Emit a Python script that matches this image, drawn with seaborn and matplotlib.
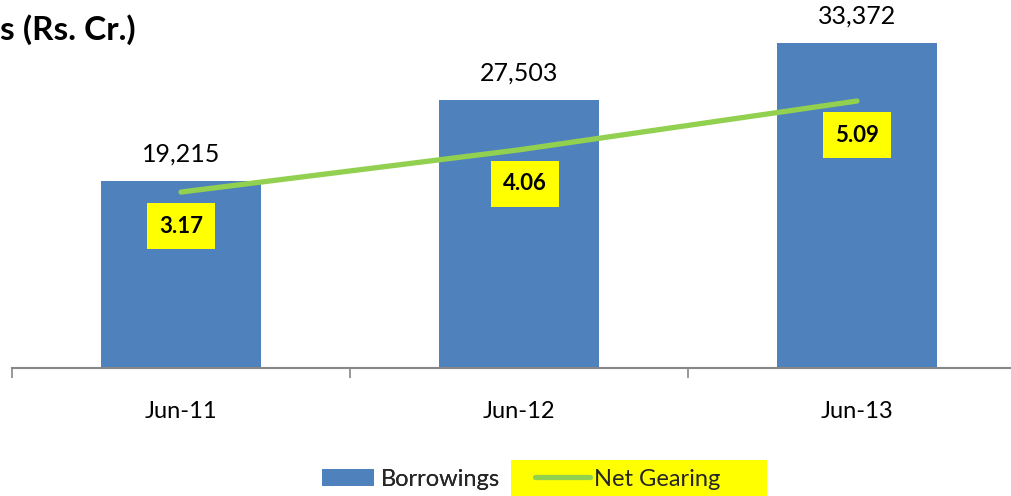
import matplotlib
matplotlib.use("Agg")
import matplotlib.pyplot as plt
import seaborn as sns
import pandas as pd
import numpy as np
from matplotlib.lines import Line2D
from matplotlib.patches import Patch, Rectangle

# ---- data ----
categories = ["Jun-11", "Jun-12", "Jun-13"]
borrowings = [19215, 27503, 33372]
net_gearing = [3.17, 4.06, 5.09]
title_text = "s (Rs. Cr.)"
legend_labels = ["Borrowings", "Net Gearing"]

BLUE = "#4F81BD"
GREEN = "#92D050"
YELLOW = "#FFFF00"
GRAY = "#878787"
FONT = "Lato"

sns.set_theme(style="white")
plt.rcParams["font.family"] = [FONT, "DejaVu Sans"]

W, H = 1011, 496
fig = plt.figure(figsize=(W / 100, H / 100), dpi=100)

ax_left = 12 / W
ax_bottom = (H - 368) / H
ax_width = 1014 / W
ax_height = 368 / H
ax = fig.add_axes([ax_left, ax_bottom, ax_width, ax_height])

df = pd.DataFrame({"cat": categories, "val": borrowings})
sns.barplot(data=df, x="cat", y="val", color=BLUE, width=0.475, ax=ax,
            saturation=1, edgecolor="none")
ax.set_xlim(-0.5, 2.5)
ax.set_ylim(0, 37740)
ax.set_xlabel("")
ax.set_ylabel("")
ax.set_yticks([])
for s in ["left", "right", "top"]:
    ax.spines[s].set_visible(False)
ax.spines["bottom"].set_color(GRAY)
ax.spines["bottom"].set_linewidth(1.5)
ax.tick_params(axis="x", which="major", length=0, pad=24, labelsize=17,
               labelcolor="black")
ax.set_xticks(np.arange(-0.5, len(categories), 1.0), minor=True)
ax.tick_params(axis="x", which="minor", bottom=True, length=7, width=1.2,
               color=GRAY, direction="out")

for i, v in enumerate(borrowings):
    ax.annotate(f"{v:,}", xy=(i, v), xytext=(0, 27), textcoords="offset pixels",
                ha="center", va="center", fontsize=18, color="black")

ax2 = ax.twinx()
ax2.set_ylim(-0.54, 7.22)
sns.lineplot(x=np.arange(len(categories)), y=net_gearing, ax=ax2, color=GREEN,
             linewidth=3.8, solid_capstyle="round", legend=False)
ax2.set_xlim(-0.5, 2.5)
ax2.set_yticks([])
ax2.set_ylabel("")
for s in ["left", "right", "top", "bottom"]:
    ax2.spines[s].set_visible(False)

label_dx = [0, 6, 0]
for i, v in enumerate(net_gearing):
    ax2.annotate(f"{v:.2f}", xy=(i, v), xytext=(label_dx[i], -34),
                 textcoords="offset pixels",
                 ha="center", va="center", fontsize=16, fontweight="bold",
                 color="black",
                 bbox=dict(boxstyle="square,pad=0.55", facecolor=YELLOW,
                           edgecolor="none"))

fig.text(136 / W, 1 - 30 / H, title_text, ha="right", va="center",
         fontsize=24, fontweight="bold", color="black")

# legend
fig.add_artist(Rectangle((511 / W, 0), 256 / W, 36 / H, transform=fig.transFigure,
                         facecolor=YELLOW, edgecolor="none", zorder=0))
h1 = [Patch(facecolor=BLUE, edgecolor="none")]
leg1 = fig.legend(h1, [legend_labels[0]], loc="center", bbox_to_anchor=(411 / W, 1 - 479 / H),
                  frameon=False, fontsize=17, handlelength=2.2, handleheight=0.7,
                  handletextpad=0.3, borderpad=0.2)
h2 = [Line2D([0], [0], color=GREEN, linewidth=3.8, solid_capstyle="round")]
leg2 = fig.legend(h2, [legend_labels[1]], loc="center", bbox_to_anchor=(628 / W, 1 - 479 / H),
                  frameon=False, fontsize=17, handlelength=2.3,
                  handletextpad=0.2, borderpad=0.2)
fig.add_artist(leg1)

fig.savefig("out.png", dpi=100)
